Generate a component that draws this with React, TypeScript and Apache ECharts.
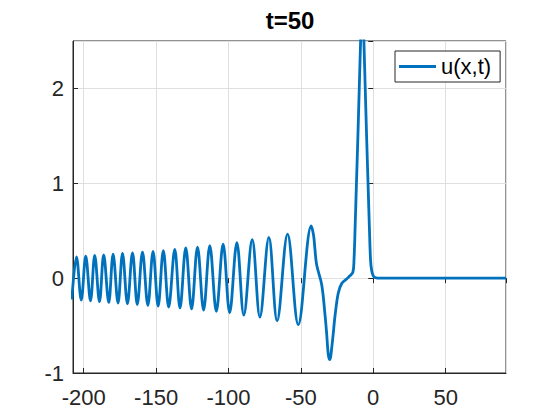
import React, { useEffect, useRef } from "react";
import * as echarts from "echarts";

// x positions and u(x,t) values (t = 50)
const xValues = [
  -208.2, -205.0, -201.7, -198.6, -195.3, -192.4, -189.1, -186.2, -182.7, -179.7,
  -176.3, -173.2, -169.8, -166.3, -163.0, -159.4, -155.7, -152.1, -148.6, -145.0,
  -141.3, -137.1, -133.5, -129.5, -125.5, -121.4, -117.2, -112.9, -108.4, -103.7,
  -99.2, -94.2, -89.4, -83.6, -78.3, -72.1, -66.4, -59.2, -51.8, -42.8,
  -41.2, -40.3, -39.1, -35.6, -33.3, -32.2, -31.0, -29.9, -28.8, -27.6,
  -26.5, -24.2, -21.8, -18.4, -16.5, -14.1, -13.3, -12.5, -11.6, -10.6,
  -9.67, -8.74, -8.2, -7.6, -7.0, -6.46, -5.53, -4.6, -3.6, -2.7,
  -1.86, -1.1, 0.0, 1.2, 3.0, 91.7,
];
const uValues = [
  -0.225, 0.224, -0.232, 0.232, -0.24, 0.239, -0.248, 0.246, -0.256, 0.253,
  -0.263, 0.26, -0.27, 0.267, -0.278, 0.274, -0.287, 0.282, -0.296, 0.29,
  -0.305, 0.303, -0.315, 0.318, -0.325, 0.328, -0.337, 0.343, -0.35, 0.358,
  -0.365, 0.375, -0.39, 0.405, -0.41, 0.43, -0.45, 0.463, -0.49, 0.55,
  0.45, 0.31, 0.14, -0.07, -0.39, -0.58, -0.81, -0.86, -0.75, -0.58,
  -0.41, -0.16, -0.056, -0.01, 0.02, 0.06, 0.19, 0.55, 1.0, 1.5,
  2.0, 2.5, 2.8, 3.0, 2.8, 2.5, 2.0, 1.5, 1.0, 0.55,
  0.19, 0.08, 0.025, 0.006, 0.0, 0.0,
];
const xTicks = [-200, -150, -100, -50, 0, 50];
const yTicks = [-1, 0, 1, 2];
const X_MIN = -207.4;
const X_MAX = 91.7;
const Y_MIN = -1;
const Y_MAX = 2.5;
const titleText = "t=50";
const seriesName = "u(x,t)";

const FONT = "'Liberation Sans', Arial, Helvetica, sans-serif";
const AXIS_COLOR = "#262626";
const GRID_COLOR = "#dfdfdf";
const LINE_COLOR = "#0072BD";

export default function App() {
  const ref = useRef<HTMLDivElement>(null);
  useEffect(() => {
    if (!ref.current) return;
    const chart = echarts.init(ref.current, null, { renderer: "svg" });
    const data = xValues.map((x, i) => [x, uValues[i]]);
    chart.setOption({
      animation: false,
      backgroundColor: "#ffffff",
      title: {
        text: titleText,
        left: 290,
        top: 8,
        textAlign: "center",
        padding: 0,
        textStyle: { fontSize: 24, fontWeight: "bold", color: "#000", fontFamily: FONT },
      },
      legend: {
        data: [{ name: seriesName, icon: "rect", itemStyle: { color: LINE_COLOR } }],
        left: 395,
        top: 51,
        orient: "vertical",
        backgroundColor: "#ffffff",
        borderColor: AXIS_COLOR,
        borderWidth: 1,
        borderRadius: 0,
        padding: [4, 9, 4, 4],
        itemWidth: 37,
        itemHeight: 3,
        textStyle: { fontSize: 22, color: "#000", fontFamily: FONT, lineHeight: 23 },
      },
      grid: {
        left: 73,
        right: 54,
        top: 41,
        bottom: 47,
        show: true,
        borderColor: AXIS_COLOR,
        borderWidth: 1,
        backgroundColor: "transparent",
      },
      xAxis: [
        {
          type: "value",
          min: X_MIN,
          max: X_MAX,
          position: "bottom",
          axisLine: { show: true, onZero: false, lineStyle: { color: AXIS_COLOR, width: 1 } },
          axisTick: { show: true, inside: true, length: 5, lineStyle: { color: AXIS_COLOR } },
          axisLabel: {
            color: AXIS_COLOR,
            fontSize: 22,
            fontFamily: FONT,
            margin: 13,
            showMinLabel: false,
            showMaxLabel: false,
            formatter: (v: number) => (xTicks.includes(v) ? String(v) : ""),
          },
          splitLine: { show: true, lineStyle: { color: GRID_COLOR, width: 1 } },
        },
        {
          type: "value",
          min: X_MIN,
          max: X_MAX,
          position: "top",
          axisLine: { show: false },
          axisTick: { show: true, inside: true, length: 5, lineStyle: { color: AXIS_COLOR } },
          axisLabel: { show: false },
          splitLine: { show: false },
        },
      ],
      yAxis: [
        {
          type: "value",
          min: Y_MIN,
          max: Y_MAX,
          interval: 1,
          position: "left",
          axisLine: { show: true, onZero: false, lineStyle: { color: AXIS_COLOR, width: 1 } },
          axisTick: { show: true, inside: true, length: 5, lineStyle: { color: AXIS_COLOR } },
          axisLabel: {
            color: AXIS_COLOR,
            fontSize: 22,
            fontFamily: FONT,
            margin: 9,
            padding: [6, 0, 0, 0],
            showMaxLabel: false,
            formatter: (v: number) => (yTicks.includes(v) ? String(v) : ""),
          },
          splitLine: { show: true, lineStyle: { color: GRID_COLOR, width: 1 } },
        },
        {
          type: "value",
          min: Y_MIN,
          max: Y_MAX,
          interval: 1,
          position: "right",
          axisLine: { show: false },
          axisTick: { show: true, inside: true, length: 5, lineStyle: { color: AXIS_COLOR } },
          axisLabel: { show: false },
          splitLine: { show: false },
        },
      ],
      series: [
        {
          name: seriesName,
          type: "line",
          xAxisIndex: 0,
          yAxisIndex: 0,
          data,
          smooth: 0.36,
          symbol: "none",
          showSymbol: false,
          clip: true,
          lineStyle: { color: LINE_COLOR, width: 2.8 },
          itemStyle: { color: LINE_COLOR },
        },
      ],
    });
    return () => chart.dispose();
  }, []);
  return (
    <div
      ref={ref}
      style={{ position: "fixed", left: 0, top: 0, width: 560, height: 420 }}
    />
  );
}
